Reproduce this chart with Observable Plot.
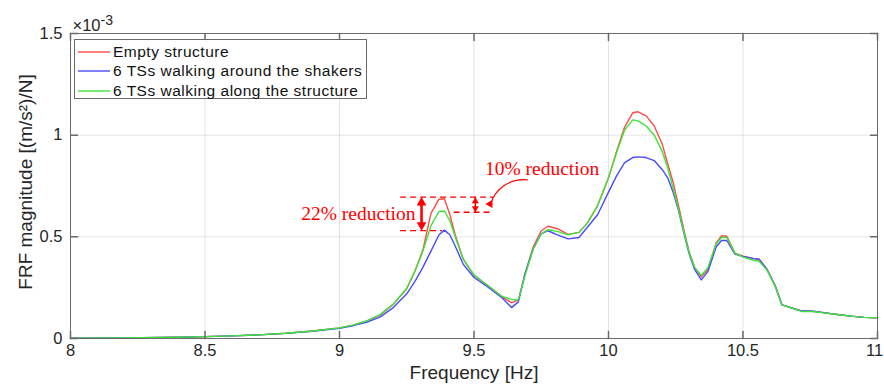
<!DOCTYPE html>
<html>
<head>
<meta charset="utf-8">
<script src="https://cdn.jsdelivr.net/npm/d3@7"></script>
<script src="https://cdn.jsdelivr.net/npm/@observablehq/plot@0.6"></script>
<style>
  body { margin: 0; background: #fff; }
  #wrap { position: relative; width: 884px; height: 392px; font-family: "Liberation Sans", Arial, sans-serif; }
  #legend { position: absolute; left: 74px; top: 39px; width: 293px; height: 60px; box-sizing: border-box;
            border: 1px solid #6a6a6a; background: #fff; }
  .row { position: absolute; left: 0; height: 20px; display: flex; align-items: center; font-size: 15.5px; letter-spacing: 0.5px; color: #111; white-space: nowrap; }
  .row svg { margin-left: 3px; margin-right: 3px; }
</style>
</head>
<body>
<div id="wrap">
  <div id="chart"></div>
  <div id="legend"></div>
</div>
<script>
// ---- data (FRF magnitude in units of 1e-3 (m/s^2)/N) ----
const freq = [8.0, 8.2, 8.4, 8.5, 8.6, 8.7, 8.8, 8.9, 9.0, 9.05, 9.1, 9.15, 9.2,
  9.25, 9.28, 9.31, 9.34, 9.37, 9.39, 9.41, 9.43, 9.46, 9.5,
  9.55, 9.6, 9.64, 9.665, 9.69, 9.72, 9.75, 9.775, 9.81, 9.85, 9.89, 9.92, 9.96,
  10.0, 10.03, 10.06, 10.09, 10.11, 10.14, 10.17,
  10.2, 10.22, 10.24, 10.26, 10.28, 10.3, 10.32, 10.345,
  10.37, 10.4, 10.42, 10.44, 10.47, 10.5, 10.54, 10.56, 10.59, 10.62, 10.645,
  10.68, 10.72, 10.76, 10.8, 10.85, 10.9, 10.95, 11.0];

const emptyStructure = [0.001, 0.003, 0.006, 0.009, 0.013, 0.018, 0.026, 0.037, 0.052, 0.066, 0.085, 0.115, 0.168,
  0.245, 0.33, 0.435, 0.615, 0.685, 0.687, 0.61, 0.51, 0.39, 0.31,
  0.262, 0.21, 0.175, 0.19, 0.32, 0.45, 0.53, 0.552, 0.54, 0.512, 0.522, 0.565, 0.655,
  0.79, 0.92, 1.04, 1.11, 1.115, 1.095, 1.045,
  0.955, 0.86, 0.77, 0.655, 0.535, 0.425, 0.35, 0.303,
  0.34, 0.47, 0.505, 0.503, 0.42, 0.405, 0.393, 0.39, 0.338, 0.258, 0.165,
  0.152, 0.135, 0.134, 0.127, 0.118, 0.11, 0.104, 0.102];

const aroundShakers = [0.001, 0.003, 0.006, 0.009, 0.013, 0.018, 0.025, 0.036, 0.05, 0.063, 0.08, 0.105, 0.152,
  0.22, 0.28, 0.35, 0.43, 0.51, 0.533, 0.51, 0.455, 0.365, 0.30,
  0.255, 0.205, 0.152, 0.18, 0.32, 0.44, 0.515, 0.53, 0.51, 0.49, 0.497, 0.545, 0.61,
  0.72, 0.80, 0.865, 0.89, 0.893, 0.89, 0.875,
  0.83, 0.79, 0.72, 0.63, 0.52, 0.415, 0.34, 0.288,
  0.33, 0.45, 0.482, 0.482, 0.415, 0.403, 0.393, 0.39, 0.338, 0.258, 0.165,
  0.15, 0.135, 0.134, 0.127, 0.118, 0.11, 0.104, 0.102];

const alongStructure = [0.001, 0.003, 0.006, 0.009, 0.013, 0.018, 0.026, 0.037, 0.052, 0.066, 0.086, 0.116, 0.17,
  0.247, 0.33, 0.43, 0.555, 0.625, 0.627, 0.58, 0.5, 0.39, 0.313,
  0.262, 0.21, 0.192, 0.19, 0.31, 0.44, 0.515, 0.535, 0.527, 0.51, 0.522, 0.565, 0.655,
  0.79, 0.915, 1.025, 1.075, 1.07, 1.045, 1.0,
  0.92, 0.84, 0.74, 0.635, 0.525, 0.42, 0.35, 0.31,
  0.35, 0.465, 0.497, 0.497, 0.42, 0.4, 0.385, 0.38, 0.335, 0.255, 0.165,
  0.15, 0.132, 0.133, 0.126, 0.118, 0.11, 0.104, 0.102];

const seriesNames = ["Empty structure", "6 TSs walking around the shakers", "6 TSs walking along the structure"];
const seriesColors = ["#ff4a4a", "#4a4aff", "#3ae63a"];
const seriesValues = [emptyStructure, aroundShakers, alongStructure];

const xTicks = [8, 8.5, 9, 9.5, 10, 10.5, 11];
const yTicks = [0, 0.5, 1, 1.5];

// annotation values (data units)
const dashLevels = [0.695, 0.531, 0.621];
const dashStart = [9.227, 9.227, 9.426];
const dashEnd = [9.573, 9.383, 9.573];
const bigArrowF = 9.305;
const smallArrowF = 9.505;
const annoLabels = ["22% reduction", "10% reduction"];
const annoLabelF = [9.07, 9.753];
const annoLabelV = [0.614, 0.836];
const curveArrow = {f1: 9.698, v1: 0.78, f2: 9.562, v2: 0.662, tipF: 9.545};

// ---- build table ----
const rows = [];
seriesNames.forEach((name, i) => seriesValues[i].forEach((v, j) => rows.push({series: name, f: freq[j], v})));

const tickShape = {draw(context, l) { context.moveTo(0, 0); context.lineTo(0, -l); }};
const red = "#ff0000";
const axisColor = "#6a6a6a";
const labelStyle = {fontSize: 19, fill: "#262626"};
const innerXTicks = xTicks.slice(0, -1);
const lastXTick = xTicks.slice(-1);

const chart = Plot.plot({
  width: 884, height: 392,
  marginLeft: 70, marginRight: 7, marginTop: 33, marginBottom: 54,
  style: {fontFamily: '"Liberation Sans", Arial, sans-serif', fontSize: "16px", color: "#262626", background: "#fff", overflow: "visible"},
  x: {domain: [8, 11], axis: null},
  y: {domain: [0, 1.5], axis: null},
  color: {domain: seriesNames, range: seriesColors},
  marks: [
    Plot.gridX(xTicks, {stroke: "#000", strokeOpacity: 0.1}),
    Plot.gridY(yTicks, {stroke: "#000", strokeOpacity: 0.1}),
    Plot.line(rows, {x: "f", y: "v", z: "series", stroke: "series", strokeWidth: 1.4}),
    // dashed reference lines
    Plot.ruleY(dashLevels, {y: d => d, x1: (d, i) => dashStart[i], x2: (d, i) => dashEnd[i],
      stroke: red, strokeWidth: 1.3, strokeDasharray: "6,4"}),
    // 22% double arrow
    Plot.ruleX([bigArrowF], {x: d => d, y1: dashLevels[0], y2: dashLevels[1], stroke: red, strokeWidth: 2.6, insetTop: 6, insetBottom: 6}),
    Plot.dot([dashLevels[0]], {x: bigArrowF, y: d => d, symbol: "triangle", r: 3.6, fill: red, stroke: "none", dy: 5.5}),
    Plot.dot([dashLevels[1]], {x: bigArrowF, y: d => d, symbol: "triangle", r: 3.6, fill: red, stroke: "none", dy: -5.5, rotate: 180}),
    // 10% small double arrow
    Plot.ruleX([smallArrowF], {x: d => d, y1: dashLevels[0], y2: dashLevels[2], stroke: red, strokeWidth: 1.5}),
    Plot.dot([dashLevels[0]], {x: smallArrowF, y: d => d, symbol: "triangle", r: 2.6, fill: red, stroke: "none", dy: 4}),
    Plot.dot([dashLevels[2]], {x: smallArrowF, y: d => d, symbol: "triangle", r: 2.6, fill: red, stroke: "none", dy: -4, rotate: 180}),
    // curved pointer
    Plot.arrow([curveArrow], {x1: "f1", y1: "v1", x2: "f2", y2: "v2", bend: -40, headLength: 0, stroke: red, strokeWidth: 1.2}),
    Plot.dot([curveArrow], {x: "tipF", y: "v2", symbol: "triangle", r: 3, fill: red, stroke: "none", rotate: -90, dx: 4}),
    Plot.text(annoLabels, {x: (d, i) => annoLabelF[i], y: (d, i) => annoLabelV[i], text: d => d,
      fill: red, fontSize: 19.5, fontFamily: '"Liberation Serif", "Times New Roman", serif'}),
    // box and inward ticks
    Plot.frame({stroke: axisColor}),
    Plot.vectorX(xTicks, {x: d => d, frameAnchor: "bottom", length: 7, rotate: 0, anchor: "start", shape: tickShape, stroke: axisColor}),
    Plot.vectorX(xTicks, {x: d => d, frameAnchor: "top", length: 7, rotate: 180, anchor: "start", shape: tickShape, stroke: axisColor}),
    Plot.vectorY(yTicks, {y: d => d, frameAnchor: "left", length: 7, rotate: 90, anchor: "start", shape: tickShape, stroke: axisColor}),
    Plot.vectorY(yTicks, {y: d => d, frameAnchor: "right", length: 7, rotate: -90, anchor: "start", shape: tickShape, stroke: axisColor}),
    Plot.axisX(innerXTicks, {tickSize: 0, tickPadding: 6, tickFormat: d => String(d), label: null, fontSize: 16.5, fill: "#262626"}),
    Plot.axisX(lastXTick, {tickSize: 0, tickPadding: 6, tickFormat: d => String(d), label: null, fontSize: 16.5, fill: "#262626", dx: -3}),
    Plot.axisY(yTicks, {tickSize: 0, tickPadding: 8, tickFormat: d => String(d), label: null, fontSize: 16.5, fill: "#262626"}),
    Plot.text(["Frequency [Hz]"], {frameAnchor: "bottom", dy: 40, textAnchor: "middle", text: d => d, ...labelStyle,
      letterSpacing: "1px"}),
    Plot.text(["FRF magnitude [(m/s²)/N]"], {frameAnchor: "left", dx: -45, dy: -4, rotate: -90, textAnchor: "middle",
      text: d => d, ...labelStyle, letterSpacing: "0.8px"}),
    Plot.text(["×10"], {frameAnchor: "top-left", dx: 2, dy: -3, lineAnchor: "bottom", textAnchor: "start", text: d => d, fontSize: 16.5, fill: "#262626"}),
    Plot.text(["-3"], {frameAnchor: "top-left", dx: 30, dy: -9, lineAnchor: "bottom", textAnchor: "start", text: d => d, fontSize: 14, fill: "#262626"})
  ]
});
document.getElementById("chart").appendChild(chart);

// legend
const legend = document.getElementById("legend");
seriesNames.forEach((name, i) => {
  const row = document.createElement("div");
  row.className = "row";
  row.style.top = (1.5 + i * 19.6) + "px";
  row.innerHTML = `<svg width="32" height="4"><line x1="0" x2="32" y1="2" y2="2" stroke="${seriesColors[i]}" stroke-width="1.4"/></svg><span>${name}</span>`;
  legend.appendChild(row);
});
</script>
</body>
</html>
